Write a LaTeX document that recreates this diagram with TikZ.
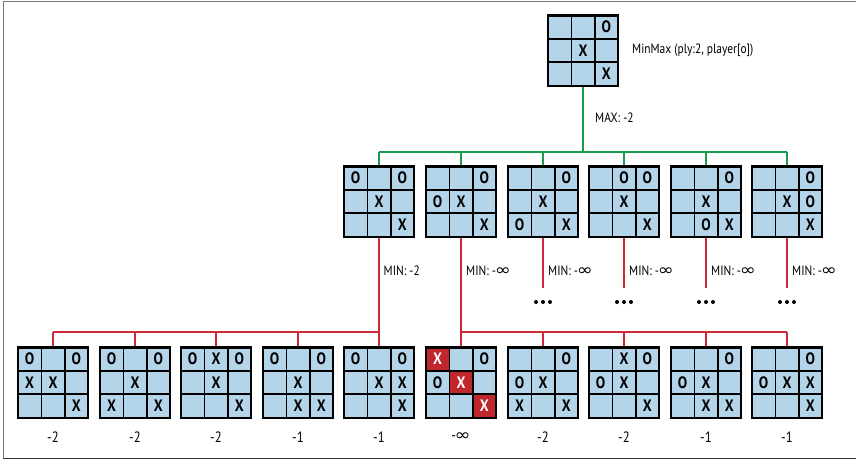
\documentclass[tikz,border=0pt]{standalone}
\usepackage{fontspec}
\setmainfont{PT Sans}[FakeStretch=0.85]
\newfontfamily\inff{DejaVu Sans}
\definecolor{cellblue}{HTML}{B4D4EA}
\definecolor{cellred}{HTML}{C0272D}
\definecolor{linegreen}{HTML}{1A9B4B}
\definecolor{linered}{HTML}{CC2A36}
\definecolor{framegray}{HTML}{7A7A7A}
\newcommand\infsym{{\kern-1.2pt\inff\fontsize{16}{16}\selectfont\scalebox{1.2}[1]{∞}}}
\tikzset{
  cell/.style={draw=black, line width=1.6pt, fill=cellblue, minimum size=23.4pt, inner sep=0pt,
    font=\fontsize{16.5}{16.5}\selectfont\bfseries},
  redcell/.style={fill=cellred, text=white},
  boardbox/.style={draw=black, line width=2.2pt, minimum size=70.2pt, inner sep=0pt},
  gline/.style={draw=linegreen, line width=2pt},
  rline/.style={draw=linered, line width=2pt},
  lab/.style={font=\fontsize{13.5}{13.5}\selectfont, anchor=west, inner sep=0pt},
  val/.style={font=\fontsize{15}{15}\selectfont, inner sep=0pt},
  dot/.style={circle, fill=black, inner sep=0pt, minimum size=4pt},
  frameline/.style={draw=framegray, line width=1.6pt},
}
\newcommand\board[4]{%
  \foreach \c [count=\i from 0] in {#4} {%
    \pgfmathtruncatemacro\cc{mod(\i,3)}%
    \pgfmathtruncatemacro\rr{div(\i,3)}%
    \if x\c
      \node[cell] (#1-\i) at (#2+23.4*\cc-23.4,#3+23.4*\rr-23.4) {X};
    \else\if o\c
      \node[cell] (#1-\i) at (#2+23.4*\cc-23.4,#3+23.4*\rr-23.4) {O};
    \else\if R\c
      \node[cell,redcell] (#1-\i) at (#2+23.4*\cc-23.4,#3+23.4*\rr-23.4) {X};
    \else
      \node[cell] (#1-\i) at (#2+23.4*\cc-23.4,#3+23.4*\rr-23.4) {};
    \fi\fi\fi
  }%
  \node[boardbox] (#1) at (#2,#3) {};%
}
\begin{document}
\begin{tikzpicture}[x=1pt,y=-1pt]
\useasboundingbox (0,0) rectangle (856,463);
% frame
\draw[frameline] (3.5,1.5) -- (856,1.5);
\draw[frameline] (3.5,0.7) -- (3.5,458.5);
\draw[draw=black!80, line width=1.6pt] (2.7,458.5) -- (856,458.5);

% boards
\board{top}{583}{50.5}{-,-,o,-,x,-,-,-,x}
\board{m1}{379}{201.5}{o,-,o,-,x,-,-,-,x}
\board{m2}{461}{201.5}{-,-,o,o,x,-,-,-,x}
\board{m3}{543}{201.5}{-,-,o,-,x,-,o,-,x}
\board{m4}{624}{201.5}{-,o,o,-,x,-,-,-,x}
\board{m5}{706}{201.5}{-,-,o,-,x,-,-,o,x}
\board{m6}{787}{201.5}{-,-,o,-,x,o,-,-,x}

\board{b1}{53}{382.5}{o,-,o,x,x,-,-,-,x}
\board{b2}{135}{382.5}{o,-,o,-,x,-,x,-,x}
\board{b3}{216}{382.5}{o,x,o,-,x,-,-,-,x}
\board{b4}{298}{382.5}{o,-,o,-,x,-,-,x,x}
\board{b5}{379}{382.5}{o,-,o,-,x,x,-,-,x}
\board{b6}{461}{382.5}{R,-,o,o,R,-,-,-,R}
\board{b7}{543}{382.5}{-,-,o,o,x,-,x,-,x}
\board{b8}{624}{382.5}{-,x,o,o,x,-,-,-,x}
\board{b9}{706}{382.5}{-,-,o,o,x,-,-,x,x}
\board{b10}{787}{382.5}{-,-,o,o,x,x,-,-,x}

% green connectors
\coordinate (gbus) at (0,152);
\draw[gline] (top.south) -- (top.south |- gbus);
\draw[gline] (m1.north |- gbus) -- (m6.north |- gbus);
\foreach \k in {1,...,6} \draw[gline] (m\k.north |- gbus) -- (m\k.north);

% red connectors
\coordinate (rbus) at (0,332);
\draw[rline] (m1.south) -- (b5.north);
\draw[rline] (b1.north |- rbus) -- (b5.north |- rbus);
\foreach \k in {1,...,4} \draw[rline] (b\k.north |- rbus) -- (b\k.north);
\draw[rline] (m2.south) -- (b6.north);
\draw[rline] (b6.north |- rbus) -- (b10.north |- rbus);
\foreach \k in {7,...,10} \draw[rline] (b\k.north |- rbus) -- (b\k.north);
\coordinate (stub) at (0,288);
\foreach \k in {3,...,6} {
  \coordinate (e\k) at (m\k.south |- stub);
  \draw[rline] (m\k.south) -- (e\k);
  \node[dot] (d\k a) at ([xshift=-7pt,yshift=-14pt]e\k) {};
  \node[dot] (d\k b) at ([yshift=-14pt]e\k) {};
  \node[dot] (d\k c) at ([xshift=7pt,yshift=-14pt]e\k) {};
}

% labels
\node[lab] (title) at (632,50) {MinMax (ply:2, player[o])};
\node[lab] (maxl) at (595,118) {MAX: -2};
\node[lab] (min1) at (383.5,271) {MIN: -2};
\foreach \k in {2,...,6} \node[lab] (min\k) at ([xshift=5pt]m\k.south |- 0,271) {MIN: -\infsym};

\foreach \k/\v in {1/-2,2/-2,3/-2,4/-1,5/-1,7/-2,8/-2,9/-1,10/-1}
  \node[val] (v\k) at (b\k.south |- 0,437) {\v};
\node[val] (v6) at (b6.south |- 0,437) {-\infsym};
\end{tikzpicture}
\end{document}
